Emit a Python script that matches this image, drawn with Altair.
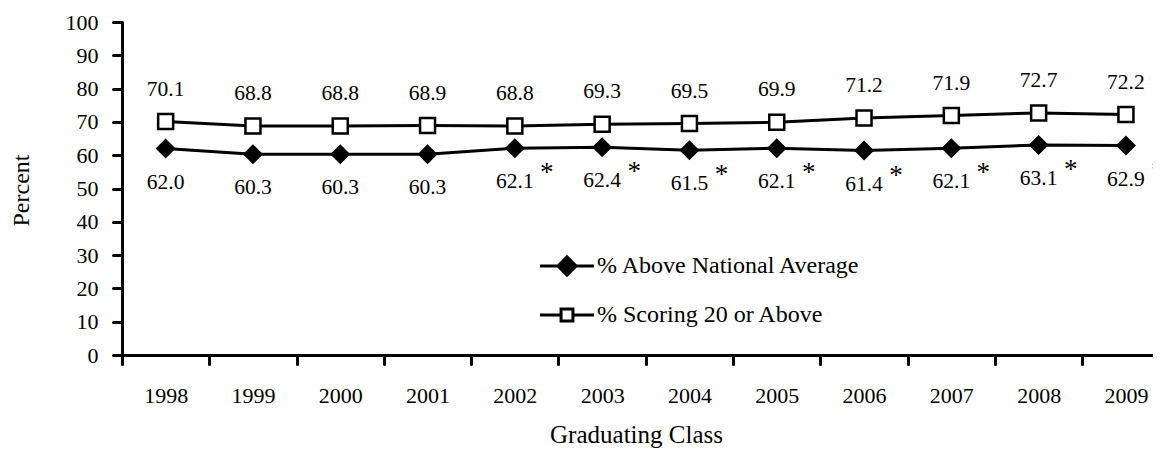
import altair as alt
import pandas as pd

years = [1998, 1999, 2000, 2001, 2002, 2003, 2004, 2005, 2006, 2007, 2008, 2009]
above_avg = [62.0, 60.3, 60.3, 60.3, 62.1, 62.4, 61.5, 62.1, 61.4, 62.1, 63.1, 62.9]
scoring20 = [70.1, 68.8, 68.8, 68.9, 68.8, 69.3, 69.5, 69.9, 71.2, 71.9, 72.7, 72.2]
flagged = [False, False, False, False, True, True, True, True, True, True, True, True]
series_names = ["% Above National Average", "% Scoring 20 or Above"]
y_ticks = [0, 10, 20, 30, 40, 50, 60, 70, 80, 90, 100]

rows = []
for yr, a, s, f in zip(years, above_avg, scoring20, flagged):
    rows.append({"year": yr, "value": a, "series": series_names[0], "flag": f})
    rows.append({"year": yr, "value": s, "series": series_names[1], "flag": False})
df = pd.DataFrame(rows)

FONT = "Liberation Serif"
half_years = [y - 0.5 for y in years]

xscale = alt.Scale(domain=[1997.5, 2009.31], nice=False, zero=False)
x_tick_axis = alt.Axis(values=half_years, labels=False, tickSize=9, tickWidth=3,
                       tickColor="black", domainColor="black", domainWidth=3,
                       tickCap="round", grid=False, title=None, orient="bottom")
x_label_axis = alt.Axis(values=years, ticks=False, domain=False, grid=False, format="d",
                        labelFontSize=22, labelFont=FONT, labelColor="black",
                        labelPadding=30, orient="bottom",
                        title="Graduating Class", titleFont=FONT, titleFontSize=25,
                        titleFontWeight="normal", titleColor="black",
                        titleX=514, titleY=79, titleAlign="center", titleBaseline="middle")
y_axis = alt.Axis(values=y_ticks, tickSize=9, tickWidth=3, tickColor="black",
                  tickCap="round", domainColor="black", domainWidth=3, grid=False,
                  labelFontSize=22, labelFont=FONT, labelColor="black", labelPadding=15,
                  title="Percent", titleFont=FONT, titleFontSize=24,
                  titleFontWeight="normal", titleColor="black", titleAngle=270,
                  titleX=-101, titleY=168, titleAlign="center", titleBaseline="middle")

yenc = alt.Y("value:Q", scale=alt.Scale(domain=[0, 100], nice=False), axis=y_axis)
base = alt.Chart(df)

lines = base.mark_line(color="black", strokeWidth=3).encode(
    x=alt.X("year:Q", scale=xscale, axis=x_tick_axis), y=yenc, detail="series:N")

xn = alt.X("year:Q", axis=None)

diamonds = base.transform_filter(alt.datum.series == series_names[0]).mark_point(
    shape="diamond", filled=True, color="black", size=400, opacity=1).encode(x=xn, y=yenc)
squares = base.transform_filter(alt.datum.series == series_names[1]).mark_point(
    shape="square", filled=True, fill="white", stroke="black", strokeWidth=2.5,
    size=225, opacity=1).encode(x=xn, y=yenc)

upper_labels = base.transform_filter(alt.datum.series == series_names[1]).mark_text(
    dy=-32, fontSize=21.5, font=FONT, color="black", baseline="middle").encode(
    x=alt.X("year:Q", axis=x_label_axis), y=yenc, text=alt.Text("value:Q", format=".1f"))
lower_labels = base.transform_filter(alt.datum.series == series_names[0]).mark_text(
    dy=34, fontSize=21.5, font=FONT, color="black", baseline="middle").encode(
    x=xn, y=yenc, text=alt.Text("value:Q", format=".1f"))
stars = base.transform_filter(alt.datum.flag == True).mark_text(
    text="*", dx=32, dy=33, fontSize=27, font=FONT, color="black",
    baseline="alphabetic").encode(x=xn, y=yenc)

path_diamond = "M-2,0H2M-0.67,0L0,-0.67L0.67,0L0,0.67Z"
path_square = "M-2,0H-0.44M0.44,0H2M-0.44,-0.44H0.44V0.44H-0.44Z"


def make_legend():
    return alt.Legend(title=None, orient="none", legendX=430, legendY=229,
                      direction="vertical", padding=0, symbolSize=729,
                      symbolStrokeWidth=3, symbolOpacity=1, labelFont=FONT,
                      labelFontSize=24, labelColor="black", labelOffset=15,
                      rowPadding=18, labelLimit=400)


ghost = base.mark_point(opacity=0, filled=True, strokeWidth=3).encode(
    x=xn, y=yenc,
    shape=alt.Shape("series:N", scale=alt.Scale(domain=series_names, range=[path_diamond, path_square]),
                    legend=make_legend()),
    fill=alt.Fill("series:N", scale=alt.Scale(domain=series_names, range=["black", "white"]),
                  legend=make_legend()),
    stroke=alt.Stroke("series:N", scale=alt.Scale(domain=series_names, range=["black", "black"]),
                      legend=make_legend()),
)

chart = alt.layer(lines, diamonds, squares, upper_labels, lower_labels, stars, ghost).resolve_axis(
    x="independent").properties(
    width=1031, height=333,
    autosize=alt.AutoSizeParams(type="none"),
    padding={"left": 114, "top": 14, "right": 0, "bottom": 94},
).configure_view(stroke=None)

chart.save("out.html", embed_options={"renderer": "svg", "actions": False})
